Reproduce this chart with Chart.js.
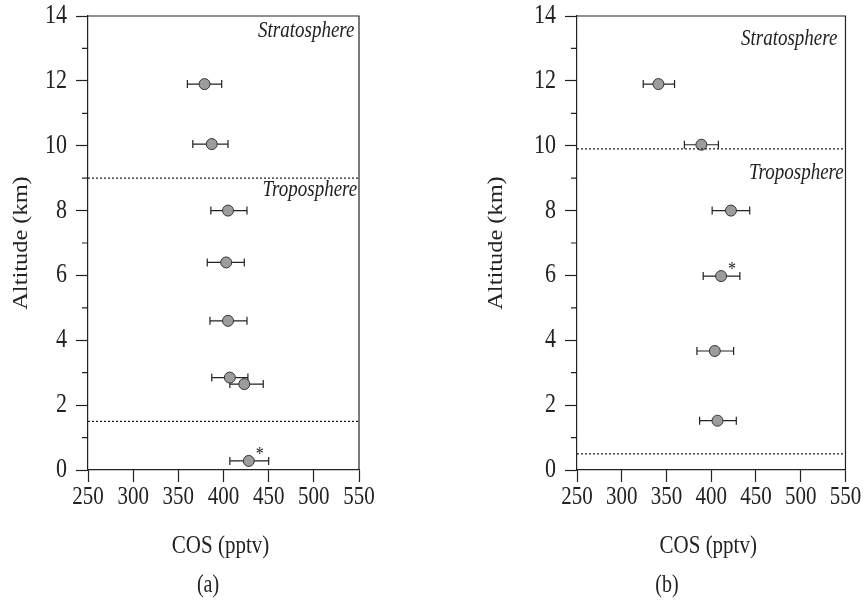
<!DOCTYPE html>
<html>
<head>
<meta charset="utf-8">
<script src="https://cdn.jsdelivr.net/npm/chart.js@4.4.1/dist/chart.umd.min.js"></script>
<style>
  html, body { margin: 0; padding: 0; background: #fff; }
  #wrap { position: relative; width: 866px; height: 602px; }
  canvas { position: absolute; top: 0; }
  #panelA { left: 0; }
  #panelB { left: 433px; }
</style>
</head>
<body>
<div id="wrap">
  <canvas id="panelA" width="433" height="602"></canvas>
  <canvas id="panelB" width="433" height="602"></canvas>
</div>
<script>
// --- Data ---
// panel (a)
const altA  = [11.9, 10.05, 8.0, 6.4, 4.6, 2.85, 2.65, 0.28];
const cosA  = [379, 387, 405, 403, 405, 407, 423, 428];
const lowA  = [360, 366, 386, 382, 385, 387, 407, 407];
const highA = [398, 405, 426, 423, 426, 427, 444, 450];
const starA = [7];
const boundA = [9.0, 1.5];
const labelTextA = ['Stratosphere', 'Troposphere'];
const labelXA = [545, 548];
const labelYA = [13.55, 8.65];

// panel (b)
const altB  = [11.9, 10.03, 8.0, 5.98, 3.67, 1.52];
const cosB  = [341, 389, 422, 411, 404, 407];
const lowB  = [324, 370, 401, 391, 384, 387];
const highB = [359, 408, 443, 432, 425, 428];
const starB = [3];
const boundB = [9.9, 0.5];
const labelTextB = ['Stratosphere', 'Troposphere'];
const labelXB = [541, 548];
const labelYB = [13.3, 9.17];

// axes
const xTicks = [250, 300, 350, 400, 450, 500, 550];
const yTicks = [0, 2, 4, 6, 8, 10, 12, 14];
const xTitle = 'COS (pptv)';
const yTitle = 'Altitude (km)';

const INK = '#222';
const SERIF = '"Liberation Serif", "Times New Roman", serif';
const SY = 1.22; // the scan is stretched vertically

function stretchText(ctx, txt, x, y, font, align, rotated) {
    ctx.save();
    ctx.translate(x, y);
    if (rotated) { ctx.rotate(-Math.PI / 2); ctx.scale(SY, 1); }
    else ctx.scale(1, SY);
    ctx.font = font;
    ctx.fillStyle = INK;
    ctx.textAlign = align;
    ctx.textBaseline = 'middle';
    ctx.fillText(txt, 0, 0);
    ctx.restore();
}

const profilePlugin = {
    id: 'profile',
    beforeDatasetsDraw(chart) {
        const p = chart.options.plugins.profile;
        const xs = chart.scales.x, ys = chart.scales.y, ctx = chart.ctx;
        ctx.save();
        ctx.strokeStyle = INK;
        ctx.lineWidth = 1.2;
        p.alt.forEach((a, i) => {
            const y = ys.getPixelForValue(a);
            const x1 = xs.getPixelForValue(p.low[i]);
            const x2 = xs.getPixelForValue(p.high[i]);
            ctx.beginPath();
            ctx.moveTo(x1, y); ctx.lineTo(x2, y);
            ctx.moveTo(x1, y - 4); ctx.lineTo(x1, y + 4);
            ctx.moveTo(x2, y - 4); ctx.lineTo(x2, y + 4);
            ctx.stroke();
        });
        ctx.restore();
    },
    afterDraw(chart) {
        const p = chart.options.plugins.profile;
        const xs = chart.scales.x, ys = chart.scales.y, ctx = chart.ctx;
        const a = chart.chartArea;
        ctx.save();
        // frame top and right
        ctx.strokeStyle = INK;
        ctx.lineWidth = 1.2;
        ctx.beginPath();
        ctx.moveTo(a.left, a.top); ctx.lineTo(a.right, a.top); ctx.lineTo(a.right, a.bottom);
        ctx.stroke();
        // minor y ticks
        ctx.beginPath();
        for (let v = 1; v < 14; v += 2) {
            const y = ys.getPixelForValue(v);
            ctx.moveTo(a.left - 6, y); ctx.lineTo(a.left, y);
        }
        ctx.stroke();
        ctx.restore();

        // tick labels
        yTicks.forEach(v => stretchText(ctx, String(v), a.left - 21, ys.getPixelForValue(v), '22px ' + SERIF, 'right'));
        xTicks.forEach(v => stretchText(ctx, String(v), xs.getPixelForValue(v), 497, '21px ' + SERIF, 'center'));

        // axis titles and panel tag
        stretchText(ctx, yTitle, p.yTitleX, (a.top + a.bottom) / 2, '20px ' + SERIF, 'center', true);
        stretchText(ctx, xTitle, (a.left + a.right) / 2 - 3, 546, '21px ' + SERIF, 'center');
        stretchText(ctx, p.tag, p.tagX, 586, '20px ' + SERIF, 'center');

        // region labels
        p.labelText.forEach((t, i) => stretchText(ctx, t, xs.getPixelForValue(p.labelX[i]), ys.getPixelForValue(p.labelY[i]), 'italic 19px ' + SERIF, 'right'));

        // asterisks
        p.star.forEach(i => stretchText(ctx, '*', xs.getPixelForValue(p.cos[i]) + 11, ys.getPixelForValue(p.alt[i]) - 6, '16px ' + SERIF, 'center'));
    }
};

function makePanel(id, alt, cos, low, high, star, bound, labelText, labelX, labelY, opts) {
    const points = alt.map((a, i) => ({ x: cos[i], y: a }));
    const datasets = bound.map(b => ({
        type: 'line',
        data: [{ x: 250, y: b }, { x: 550, y: b }],
        borderColor: INK,
        borderWidth: 1.2,
        borderDash: [2, 2],
        pointRadius: 0,
        fill: false
    }));
    datasets.push({
        type: 'scatter',
        data: points,
        pointRadius: 5.5,
        pointBackgroundColor: '#9c9c9c',
        pointBorderColor: '#333',
        pointBorderWidth: 1
    });

    new Chart(document.getElementById(id), {
        data: { datasets: datasets },
        options: {
            responsive: false,
            animation: false,
            devicePixelRatio: 1,
            layout: { padding: { left: 0, right: opts.padRight, top: 16, bottom: 0 } },
            plugins: {
                legend: { display: false },
                tooltip: { enabled: false },
                profile: {
                    alt: alt, cos: cos, low: low, high: high, star: star,
                    labelText: labelText, labelX: labelX, labelY: labelY,
                    yTitleX: opts.yTitleX, tag: opts.tag, tagX: opts.tagX
                }
            },
            scales: {
                x: {
                    type: 'linear', min: 250, max: 550,
                    ticks: { stepSize: 50, color: 'transparent', font: { size: 21 } },
                    grid: { drawOnChartArea: false, tickLength: 12, tickColor: INK, tickWidth: 1.2 },
                    border: { color: INK, width: 1.2 },
                    afterFit: s => { s.height = 132; }
                },
                y: {
                    type: 'linear', min: 0, max: 14,
                    ticks: { stepSize: 1, color: 'transparent', font: { size: 21 } },
                    grid: {
                        drawOnChartArea: false, tickLength: 12, tickWidth: 1.2,
                        tickColor: c => (c.tick && c.tick.value % 2) ? 'transparent' : INK
                    },
                    border: { color: INK, width: 1.2 },
                    afterFit: s => { s.width = opts.yWidth; }
                }
            }
        },
        plugins: [profilePlugin]
    });
}

makePanel('panelA', altA, cosA, lowA, highA, starA, boundA, labelTextA, labelXA, labelYA,
    { yWidth: 88, padRight: 74, yTitleX: 22, tag: '(a)', tagX: 208 });
makePanel('panelB', altB, cosB, lowB, highB, starB, boundB, labelTextB, labelXB, labelYB,
    { yWidth: 144, padRight: 19, yTitleX: 64, tag: '(b)', tagX: 234 });
</script>
</body>
</html>
